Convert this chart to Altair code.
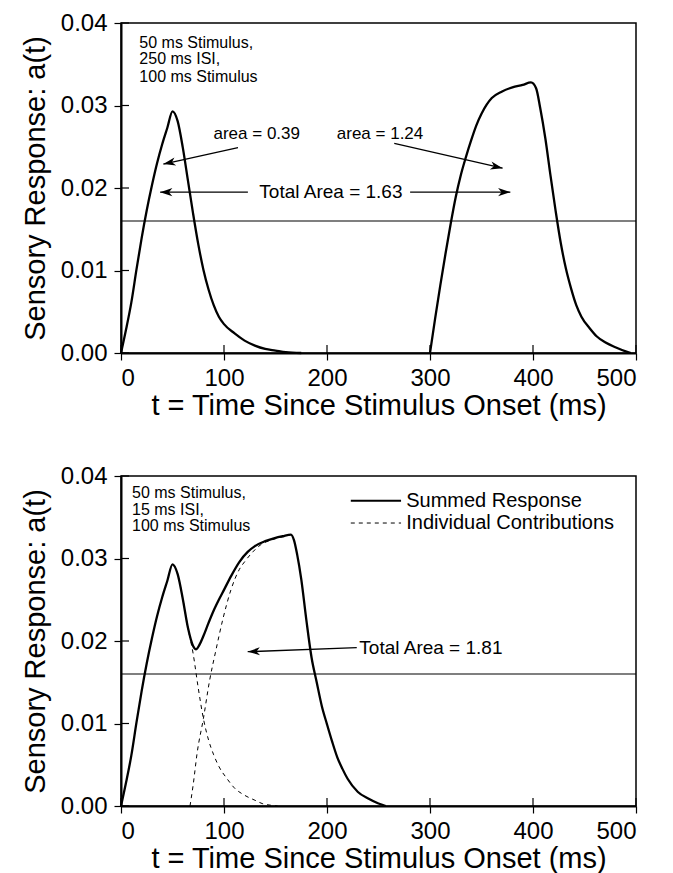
import math
import altair as alt
import pandas as pd

# ---------------- values ----------------
# Top panel: 50 ms stimulus, 250 ms ISI, 100 ms stimulus
top_first_t = [0, 5, 10, 15, 20, 25, 30, 35, 40, 45, 50, 55, 60, 65, 70, 75, 80, 85, 90, 95, 100,
               110, 120, 130, 140, 150, 160, 175]
top_first_v = [0, 0.0029, 0.0061, 0.0101, 0.0139, 0.0173, 0.0203, 0.0230, 0.0253, 0.0273, 0.0293,
               0.0281, 0.0249, 0.0209, 0.0169, 0.0132, 0.0101, 0.0077, 0.0058, 0.0044, 0.0035,
               0.0024, 0.0015, 0.0009, 0.0005, 0.0003, 0.0001, 0]
top_second_t = [300, 305, 310, 315, 320, 325, 330, 335, 340, 345, 350, 355, 360, 370, 380, 390, 398,
                403, 407, 412, 417, 422, 427, 432, 437, 442, 447, 455, 462, 470, 480, 490, 495]
top_second_v = [0, 0.0042, 0.0082, 0.0120, 0.0156, 0.0189, 0.0216, 0.0238, 0.0258, 0.0276, 0.0290,
                0.0301, 0.0309, 0.0317, 0.0322, 0.0325, 0.0328, 0.0321, 0.0297, 0.0260, 0.0215,
                0.0172, 0.0133, 0.0102, 0.0078, 0.0058, 0.0044, 0.0030, 0.0020, 0.0013, 0.0007,
                0.0002, 0]

# Bottom panel: 50 ms stimulus, 15 ms ISI, 100 ms stimulus
bot_sum_t = [0, 5, 10, 15, 20, 25, 30, 35, 40, 45, 50, 55, 60, 65, 70, 73, 76, 80, 85, 90, 95, 100,
             107, 115, 123, 130, 140, 150, 157, 165, 168, 171, 175, 180, 185, 190, 195, 200, 205,
             210, 215, 220, 230, 240, 250, 257]
bot_sum_v = [0, 0.0029, 0.0061, 0.0101, 0.0139, 0.0173, 0.0203, 0.0230, 0.0253, 0.0273, 0.0293,
             0.0281, 0.0251, 0.0216, 0.0194, 0.0190, 0.0195, 0.0206, 0.0222, 0.0237, 0.0250, 0.0262,
             0.0279, 0.0296, 0.0308, 0.0315, 0.0321, 0.0325, 0.0327, 0.0329, 0.0322, 0.0305,
             0.0275, 0.0225, 0.0180, 0.0150, 0.0121, 0.0099, 0.0078, 0.0059, 0.0045, 0.0033,
             0.0017, 0.0009, 0.0003, 0]
bot_ind1_t = [50, 55, 60, 65, 70, 75, 80, 85, 90, 95, 103, 110, 120, 130, 137, 145, 152]
bot_ind1_v = [0.0293, 0.0281, 0.0251, 0.0216, 0.0185, 0.0143, 0.0106, 0.0080, 0.0062, 0.0048,
              0.0033, 0.0022, 0.0013, 0.0007, 0.0003, 0.0001, 0]
bot_ind2_t = [67, 70, 74, 80, 86, 92, 99, 107, 115, 120, 128, 136, 145, 153, 160, 165]
bot_ind2_v = [0, 0.0025, 0.0065, 0.0106, 0.0152, 0.0188, 0.0227, 0.0263, 0.0287, 0.0296, 0.0308,
              0.0317, 0.0322, 0.0325, 0.0327, 0.0329]

criterion_level = 0.016

x_ticks = [0, 100, 200, 300, 400, 500]
y_ticks = [0.00, 0.01, 0.02, 0.03, 0.04]

# annotations
top_info_lines = ["50 ms Stimulus,", "250 ms ISI,", "100 ms Stimulus"]
top_info_t = [17.8, 17.8, 17.8]
top_info_v = [0.0376, 0.0356, 0.0335]
bot_info_lines = ["50 ms Stimulus,", "15 ms ISI,", "100 ms Stimulus"]
bot_info_t = [10.7, 10.7, 10.7]
bot_info_v = [0.0379, 0.0359, 0.0340]

top_area_labels = ["area = 0.39", "area = 1.24"]
top_area_t = [131.8, 251.5]
top_area_v = [0.0265, 0.0265]
top_total_label = ["Total Area = 1.63"]
top_total_t = [203.8]
top_total_v = [0.0195]
bot_total_label = ["Total Area = 1.81"]
bot_total_t = [231.4]
bot_total_v = [0.0192]

top_arrow_t0 = [113.6, 265.3, 123.2, 280.7]
top_arrow_v0 = [0.0249, 0.0254, 0.0195, 0.0195]
top_arrow_t1 = [41.1, 370.5, 38.0, 378.0]
top_arrow_v1 = [0.0229, 0.0224, 0.0195, 0.0195]
bot_arrow_t0 = [228.9]
bot_arrow_v0 = [0.0192]
bot_arrow_t1 = [123.0]
bot_arrow_v1 = [0.0187]

legend_labels = ["Summed Response", "Individual Contributions"]
legend_sample_t0 = [223.1, 223.1]
legend_sample_t1 = [271.9, 271.9]
legend_text_t = [276.9, 276.9]
legend_v = [0.0370, 0.0343]
legend_dash = ["solid", "dashed"]

# ---------------- chart ----------------
W, H = 515, 330
FONT = "Liberation Sans"
PX_T = W / 500.0
PX_V = H / 0.04

xs = alt.Scale(domain=[0, 500], nice=False, zero=False)
ys = alt.Scale(domain=[0, 0.04], nice=False)


def X(field, title_pad=1):
    return alt.X(f"{field}:Q", scale=xs,
                 axis=alt.Axis(values=x_ticks, format="d", labelPadding=6, titlePadding=title_pad,
                               title="t = Time Since Stimulus Onset (ms)"))


def Y(field, title_pad):
    return alt.Y(f"{field}:Q", scale=ys,
                 axis=alt.Axis(values=y_ticks, format=".2f", labelPadding=7, titlePadding=title_pad,
                               title="Sensory Response: a(t)"))


def curve_df(t, v, name):
    return pd.DataFrame({"t": t, "v": v, "s": name, "i": range(len(t))})


def arrows_df(t0, v0, t1, v1):
    rows = []
    for a, b, c, d in zip(t0, v0, t1, v1):
        ang = math.degrees(math.atan2(-(d - b) * PX_V, (c - a) * PX_T))
        rows.append({"t0": a, "v0": b, "t1": c, "v1": d, "rot": (ang - 180.0) % 360.0})
    return pd.DataFrame(rows)


ARROW = "M0,0L1,-0.33L0.72,0L1,0.33Z"


def panel(solid, dashed, arrows, texts, ypad, legend=None):
    layers = []
    # criterion line
    crit = pd.DataFrame({"v": [criterion_level]})
    layers.append(alt.Chart(crit).mark_rule(color="black", strokeWidth=1.2)
                  .encode(y=Y("v", ypad)))
    # inner tick marks (ticks cross the frame)
    layers.append(alt.Chart(pd.DataFrame({"t": x_ticks})).mark_rule(color="black", strokeWidth=1.2)
                  .encode(x=X("t"), y=alt.value(H - 8), y2=alt.value(H)))
    layers.append(alt.Chart(pd.DataFrame({"v": y_ticks})).mark_rule(color="black", strokeWidth=1.2)
                  .encode(y=Y("v", ypad), x=alt.value(0), x2=alt.value(8)))
    if dashed is not None:
        layers.append(alt.Chart(dashed).mark_line(color="black", strokeWidth=1, strokeDash=[4, 4],
                                                  interpolate="monotone")
                      .encode(x=X("t"), y=Y("v", ypad), detail="s:N", order="i:Q"))
    layers.append(alt.Chart(solid).mark_line(color="black", strokeWidth=2.3, interpolate="monotone")
                  .encode(x=X("t"), y=Y("v", ypad), detail="s:N", order="i:Q"))
    # arrows
    layers.append(alt.Chart(arrows).mark_rule(color="black", strokeWidth=1.3)
                  .encode(x=X("t0"), y=Y("v0", ypad), x2="t1:Q", y2="v1:Q"))
    layers.append(alt.Chart(arrows).mark_point(shape=ARROW, filled=True, color="black", opacity=1,
                                               size=600, strokeWidth=0)
                  .encode(x=X("t1"), y=Y("v1", ypad), angle=alt.Angle("rot:Q", scale=None)))
    for df, size, align in texts:
        layers.append(alt.Chart(df).mark_text(font=FONT, fontSize=size, align=align,
                                              baseline="middle", color="black")
                      .encode(x=X("t"), y=Y("v", ypad), text="label:N"))
    if legend is not None:
        solid_l = legend[legend["dash"] == "solid"]
        dash_l = legend[legend["dash"] == "dashed"]
        layers.append(alt.Chart(solid_l).mark_rule(color="black", strokeWidth=2)
                      .encode(x=X("t0"), x2="t1:Q", y=Y("v", ypad)))
        layers.append(alt.Chart(dash_l).mark_rule(color="black", strokeWidth=1, strokeDash=[4, 4])
                      .encode(x=X("t0"), x2="t1:Q", y=Y("v", ypad)))
        layers.append(alt.Chart(legend).mark_text(font=FONT, fontSize=20, align="left",
                                                  baseline="middle", color="black")
                      .encode(x=X("tt"), y=Y("v", ypad), text="label:N"))
    return alt.layer(*layers).properties(width=W, height=H)


top_solid = pd.concat([curve_df(top_first_t, top_first_v, "first"),
                       curve_df(top_second_t, top_second_v, "second")])
bot_solid = curve_df(bot_sum_t, bot_sum_v, "sum")
bot_dashed = pd.concat([curve_df(bot_ind1_t, bot_ind1_v, "ind1"),
                        curve_df(bot_ind2_t, bot_ind2_v, "ind2")])

top_texts = [
    (pd.DataFrame({"t": top_info_t, "v": top_info_v, "label": top_info_lines}), 16, "left"),
    (pd.DataFrame({"t": top_area_t, "v": top_area_v, "label": top_area_labels}), 17, "center"),
    (pd.DataFrame({"t": top_total_t, "v": top_total_v, "label": top_total_label}), 19, "center"),
]
bot_texts = [
    (pd.DataFrame({"t": bot_info_t, "v": bot_info_v, "label": bot_info_lines}), 16, "left"),
    (pd.DataFrame({"t": bot_total_t, "v": bot_total_v, "label": bot_total_label}), 19, "left"),
]
legend = pd.DataFrame({"t0": legend_sample_t0, "t1": legend_sample_t1, "tt": legend_text_t,
                       "v": legend_v, "label": legend_labels, "dash": legend_dash})

top = panel(top_solid, None, arrows_df(top_arrow_t0, top_arrow_v0, top_arrow_t1, top_arrow_v1),
            top_texts, 10)
bottom = panel(bot_solid, bot_dashed,
               arrows_df(bot_arrow_t0, bot_arrow_v0, bot_arrow_t1, bot_arrow_v1),
               bot_texts, 10, legend)

chart = (
    alt.vconcat(top, bottom, spacing=42)
    .properties(padding={"left": 20, "top": 10, "right": 5, "bottom": 0}, background="white")
    .configure_view(stroke="black", strokeWidth=1.5)
    .configure_axis(grid=False, domainColor="black", domainWidth=2, tickColor="black",
                    tickWidth=1.2, tickSize=7, labelColor="black", titleColor="black",
                    labelFont=FONT, titleFont=FONT, labelFontSize=24, titleFontSize=29,
                    titleFontWeight="normal")
)

chart.save("out.html", embed_options={"renderer": "svg", "actions": False})
